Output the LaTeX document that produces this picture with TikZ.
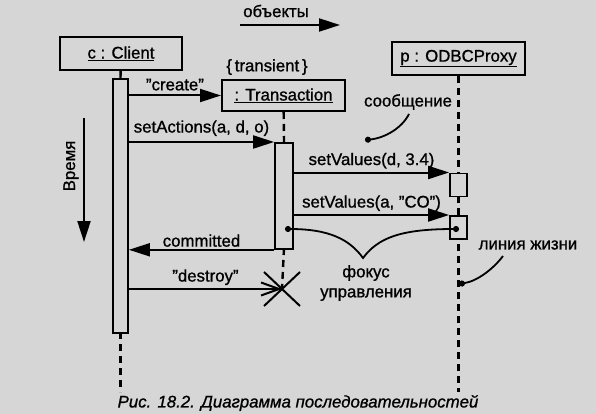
\documentclass[tikz,border=0pt]{standalone}
\usepackage{fontspec}
\setmainfont{Liberation Sans}[FakeBold=1]
\usetikzlibrary{arrows.meta,shapes.misc}
\definecolor{paper}{RGB}{214,214,214}
\newcommand{\qt}{\symbol{34}}
\tikzset{
  objbox/.style={draw,line width=2pt,fill=paper,minimum height=33pt,inner sep=2pt},
  actbar/.style={draw,line width=1.8pt,fill=paper,anchor=north,inner sep=0pt},
  lifeline/.style={line width=2.4pt,dash pattern=on 7pt off 5pt},
  msg/.style={line width=2pt,-{Triangle[length=21pt,width=13pt]}},
  lbl/.style={inner sep=1pt},
  noteline/.style={line width=1.8pt,{Circle[length=6pt]}-},
}
\begin{document}
\begin{tikzpicture}[x=1pt,y=-1pt,font=\fontsize{16.8}{20}\selectfont]
\fill[paper] (0,0) rectangle (596,414);

% ---- objects arrow ----
\node[lbl] (objlbl) at (276,11) {объекты};
\coordinate (oa) at (240,25);
\coordinate (ob) at (340,25);
\draw[msg] (oa) -- (ob);

% ---- time arrow ----
\coordinate (ta) at (84,118);
\coordinate (tb) at (84,242);
\draw[msg] (ta) -- (tb);
\node[lbl,rotate=90] (timelbl) at (71,166) {Время};

% ---- objects and lifelines ----
\node[objbox,minimum width=122pt] (client) at (121,53.5) {\underline{c : Client}};
\node[objbox,minimum width=123pt,minimum height=31pt] (trans) at (283.5,95.5) {\underline{: Transaction}};
\node[objbox,minimum width=133pt] (proxy) at (458.5,58.5) {\underline{p : ODBCProxy}};
\node[lbl] (transient) at (267,67) {\{\,transient\,\}};

\coordinate (cend) at (120.5,392);
\coordinate (pend) at (458.5,392);
\node[cross out,draw,line width=2pt,minimum width=34pt,minimum height=32pt,inner sep=0pt] (kill) at (282,289) {};

\draw[lifeline] (client) -- (120.5,78);
\draw[lifeline] (120.5,332) -- (cend);
\draw[lifeline] (trans) -- (284,142);
\draw[lifeline] (284,248) -- (kill.center);
\draw[lifeline] (proxy) -- (pend);

\node[actbar,minimum width=15pt,minimum height=254pt] (cbar) at (120.5,78) {};
\node[actbar,minimum width=18pt,minimum height=106pt] (tbar) at (284,142) {};
\node[actbar,minimum width=17pt,minimum height=23pt] (pbox1) at (458.5,172.5) {};
\node[actbar,minimum width=17pt,minimum height=23pt] (pbox2) at (458.5,215) {};

% ---- messages ----
\draw[msg] (cbar.east |- trans.west) -- node[lbl,above=3pt] (create) {\qt create\qt} (trans.west);
\draw[msg] (cbar.east |- tbar.north west) -- node[lbl,above=4pt] (setact) {setActions(a, d, o)} (tbar.north west);
\draw[msg] (tbar.east |- pbox1.north west) -- node[lbl,above=2pt] (setval1) {setValues(d, 3.4)} (pbox1.north west);
\draw[msg] (tbar.east |- pbox2.north west) -- node[lbl,above=2pt] (setval2) {setValues(a, \qt CO\qt)} (pbox2.north west);
\draw[msg] (tbar.south west) -- node[lbl,above=1pt] (commit) {committed} (cbar.east |- tbar.south west);
\draw[line width=2pt,-{Straight Barb[length=18pt,width=13pt]}] (cbar.east |- kill) -- node[lbl,above=2pt] (destroy) {\qt destroy\qt} (kill.center);

% ---- notes ----
\node[lbl] (msgnote) at (408,102) {сообщение};
\coordinate (msgdot) at (365,140);
\draw[noteline] (msgdot) .. controls (385,138) and (402,128) .. (409,114);

\node[lbl] (lifenote) at (528,245) {линия жизни};
\coordinate (lifedot) at (459,284);
\draw[noteline] (lifedot) .. controls (478,281) and (494,268) .. (503,256);

\coordinate (fdotl) at (285,229);
\coordinate (fdotr) at (459,229);
\coordinate (ftip) at (363,258);
\draw[line width=1.8pt,{Circle[length=6pt]}-{Circle[length=6pt]}] (fdotl) .. controls (330,229) and (350,240) .. (ftip) .. controls (378,238) and (400,229) .. (fdotr);
\node[lbl,align=center] (focus) at (366,283) {фокус\\управления};

% ---- caption ----
\node[lbl,font=\itshape\fontsize{16.8}{20}\selectfont] (caption) at (298,403) {Рис. 18.2. Диаграмма последовательностей};
\end{tikzpicture}
\end{document}
